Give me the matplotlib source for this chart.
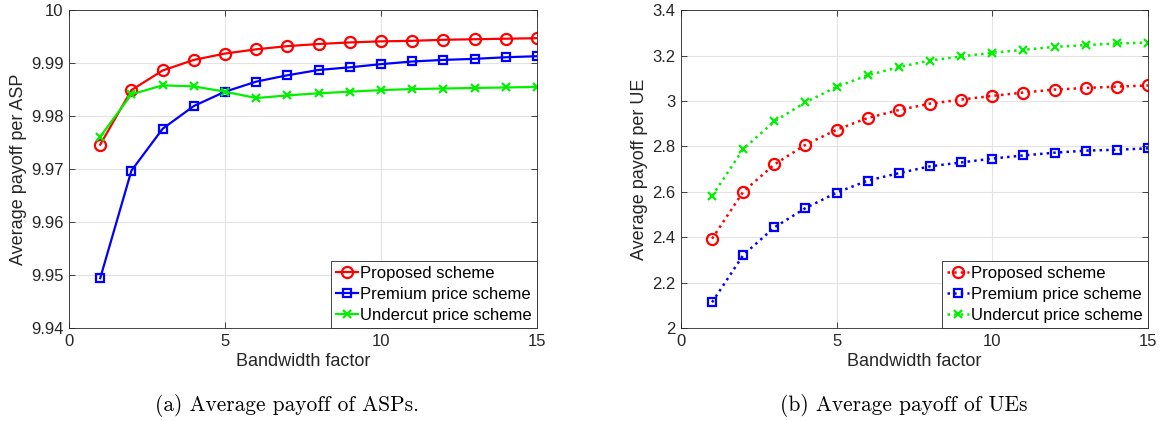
"""Average payoff of ASPs and UEs versus bandwidth factor."""

import matplotlib
matplotlib.use("Agg")
import matplotlib.pyplot as plt
from matplotlib.ticker import FuncFormatter

bandwidth = list(range(1, 16))

# (a) average payoff per ASP
asp_proposed = [9.9746, 9.9849, 9.9886, 9.9906, 9.9918, 9.9926, 9.9932, 9.9936,
                9.9939, 9.9941, 9.9942, 9.9944, 9.9945, 9.9946, 9.9947]
asp_premium = [9.9494, 9.9697, 9.9776, 9.9819, 9.9846, 9.9865, 9.9877, 9.9887,
               9.9892, 9.9898, 9.9903, 9.9906, 9.9908, 9.9911, 9.9913]
asp_undercut = [9.9761, 9.9841, 9.9858, 9.9856, 9.9846, 9.9834, 9.9839, 9.9843,
                9.9846, 9.9849, 9.9851, 9.9852, 9.9853, 9.9854, 9.9855]

# (b) average payoff per UE
ue_proposed = [2.393, 2.600, 2.720, 2.807, 2.873, 2.925, 2.960, 2.988,
               3.006, 3.022, 3.037, 3.050, 3.057, 3.063, 3.068]
ue_premium = [2.113, 2.321, 2.443, 2.528, 2.596, 2.649, 2.682, 2.712,
              2.729, 2.746, 2.760, 2.772, 2.781, 2.785, 2.791]
ue_undercut = [2.581, 2.788, 2.910, 2.994, 3.062, 3.113, 3.149, 3.178,
               3.196, 3.212, 3.225, 3.238, 3.246, 3.253, 3.257]

labels = ["Proposed scheme", "Premium price scheme", "Undercut price scheme"]
asp_ticks = [9.94, 9.95, 9.96, 9.97, 9.98, 9.99, 10.0]
ue_ticks = [2.0, 2.2, 2.4, 2.6, 2.8, 3.0, 3.2, 3.4]

plt.rcParams["font.family"] = ["Liberation Sans", "DejaVu Sans"]
TXT = "#262626"
GREEN = "#00f000"


def style_axes(ax, ylabel, yticks):
    ax.set_xlim(0, 15)
    ax.set_xticks([0, 5, 10, 15])
    ax.set_ylim(yticks[0], yticks[-1])
    ax.set_yticks(yticks)
    ax.yaxis.set_major_formatter(FuncFormatter(lambda v, _: f"{v:g}"))
    ax.grid(True, color="#e3e3e3", linewidth=0.8)
    ax.set_axisbelow(True)
    ax.tick_params(direction="in", top=True, right=True, length=4,
                   labelsize=12, colors=TXT, width=0.6, pad=4)
    for sp in ax.spines.values():
        sp.set_color(TXT)
        sp.set_linewidth(0.6)
    ax.set_xlabel("Bandwidth factor", fontsize=13, color=TXT, labelpad=3)
    ax.set_ylabel(ylabel, fontsize=13, color=TXT, labelpad=3)
    leg = ax.legend(loc="lower right", borderaxespad=0, fontsize=12,
                    fancybox=False, framealpha=1, handlelength=1.3,
                    handletextpad=0.15, borderpad=0.3, labelspacing=0.35)
    leg.get_frame().set_edgecolor(TXT)
    leg.get_frame().set_linewidth(0.6)


fig = plt.figure(figsize=(11.62, 4.21), dpi=100)
ax1 = fig.add_axes([0.0594, 0.221, 0.4028, 0.755])
ax2 = fig.add_axes([0.586, 0.221, 0.402, 0.755])

ax1.plot(bandwidth, asp_proposed, "-o", color="red", mfc="none", lw=1.6,
         ms=8, mew=1.6, label=labels[0])
ax1.plot(bandwidth, asp_premium, "-s", color="blue", mfc="none", lw=1.6,
         ms=6, mew=1.6, label=labels[1])
ax1.plot(bandwidth, asp_undercut, "-x", color=GREEN, lw=1.6,
         ms=6, mew=1.6, label=labels[2])
style_axes(ax1, "Average payoff per ASP", asp_ticks)

ax2.plot(bandwidth, ue_proposed, ":o", color="red", mfc="none", lw=1.8,
         ms=8, mew=1.6, label=labels[0])
ax2.plot(bandwidth, ue_premium, ":s", color="blue", mfc="none", lw=1.8,
         ms=6, mew=1.6, label=labels[1])
ax2.plot(bandwidth, ue_undercut, ":x", color=GREEN, lw=1.8,
         ms=6, mew=1.6, label=labels[2])
style_axes(ax2, "Average payoff per UE", ue_ticks)

fig.text(0.247, 0.038, "(a) Average payoff of ASPs.", family="cmr10",
         fontsize=15.4, ha="center", va="center", color="black")
fig.text(0.778, 0.038, "(b) Average payoff of UEs", family="cmr10",
         fontsize=15.4, ha="center", va="center", color="black")

fig.savefig("out.png", dpi=100)
plt.close(fig)
